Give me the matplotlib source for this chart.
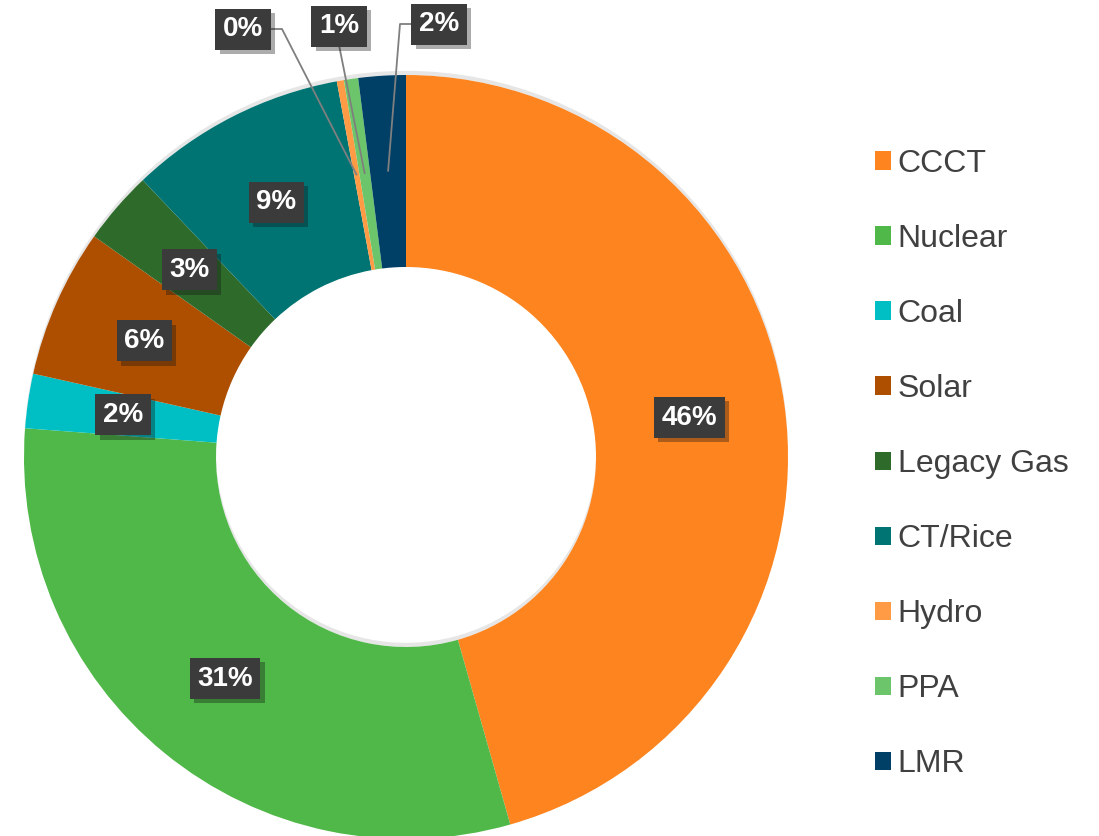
import numpy as np
import matplotlib.pyplot as plt
import matplotlib.patheffects as pe
from matplotlib.patches import Patch, Wedge

plt.rcParams["font.family"] = ["Liberation Sans", "DejaVu Sans"]

categories = ["CCCT", "Nuclear", "Coal", "Solar", "Legacy Gas",
              "CT/Rice", "Hydro", "PPA", "LMR"]
shares = [45.6, 30.6, 2.3, 6.3, 3.1, 9.2, 0.3, 0.6, 2.0]
colors = ["#FD841F", "#4FB848", "#00BFC4", "#AE4F00", "#2E6B2B",
          "#007473", "#FF9A45", "#6CC56A", "#003F66"]

# labels that sit outside the ring: box centre and elbow side (pixels)
outside = {"Hydro": ((243, 29), 1), "PPA": ((339, 26), 0), "LMR": ((439, 24), -1)}

W, H = 1099, 836
CX, CY = 406, H - 457
R_OUT, R_IN = 382, 190


def main():
    fig = plt.figure(figsize=(W / 100, H / 100), dpi=100)
    ax = fig.add_axes([0, 0, 1, 1])

    # soft shadow behind the ring
    ring = Wedge((CX, CY), R_OUT, 0, 360, width=R_OUT - R_IN,
                 facecolor="white", edgecolor="none", zorder=0)
    ring.set_path_effects([pe.SimplePatchShadow(offset=(0, 3), shadow_rgbFace="#c8c8c8", alpha=0.45),
                           pe.Normal()])
    ax.add_patch(ring)

    wedges, _ = ax.pie(shares, colors=colors, startangle=90, counterclock=False,
                       radius=R_OUT, center=(CX, CY), frame=True,
                       wedgeprops=dict(width=R_OUT - R_IN, edgecolor="none"))
    ax.set_xlim(0, W)
    ax.set_ylim(0, H)
    ax.set_aspect("equal")
    ax.axis("off")

    total = sum(shares)
    r_lab = (R_OUT + R_IN) / 2
    box = dict(boxstyle="square,pad=0.27", facecolor="#3B3B3B", edgecolor="none")
    shadow = [pe.SimplePatchShadow(offset=(3, -3), alpha=0.35), pe.Normal()]
    for w, name, v in zip(wedges, categories, shares):
        mid = np.deg2rad((w.theta1 + w.theta2) / 2)
        px = CX + r_lab * np.cos(mid)
        py = CY + r_lab * np.sin(mid)
        txt = f"{v / total * 100:.0f}%"
        if name in outside:
            (bx, by), side = outside[name]
            by = H - by
            if side == 0:
                xs, ys = [px, bx], [py, by - 19]
            else:
                edge = bx + side * 28
                xs, ys = [px, edge + side * 11, edge], [py, by, by]
            ax.plot(xs, ys, color="#7f7f7f", lw=1.3, solid_capstyle="butt", zorder=3)
            tx, ty = bx, by
        else:
            tx, ty = px, py
        t = ax.text(tx, ty, txt, ha="center", va="center", fontsize=20,
                    fontweight="bold", color="white", bbox=box, zorder=4)
        t.get_bbox_patch().set_path_effects(shadow)

    handles = [Patch(facecolor=c, edgecolor="none") for c in colors]
    ax.legend(handles, categories, loc="upper left", bbox_to_anchor=(862 / W, 1 - 136 / H),
              frameon=False, fontsize=23, labelcolor="#404040",
              handlelength=0.5, handleheight=0.5, handletextpad=0.22,
              labelspacing=1.41, borderaxespad=0)

    fig.savefig("out.png", dpi=100)
    plt.close(fig)


if __name__ == "__main__":
    main()
